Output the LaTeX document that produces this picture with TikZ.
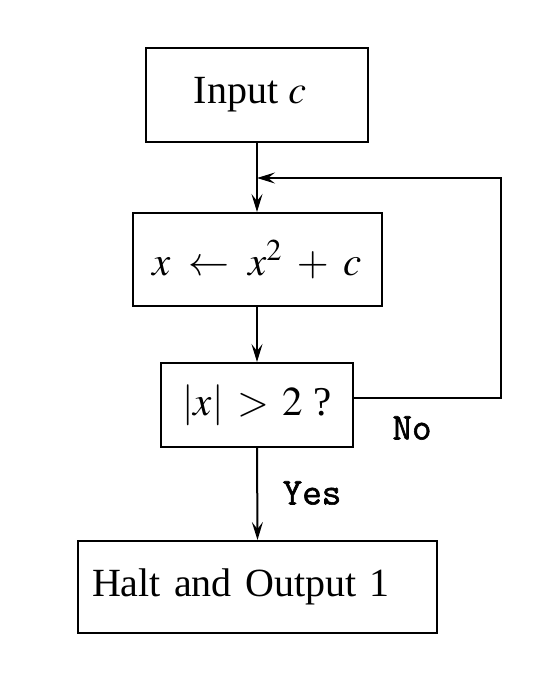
\documentclass[tikz,border=0pt]{standalone}
\usepackage{mathptmx}
\usepackage{fontspec}
\setmainfont{Liberation Serif}
\newfontfamily\ttlbl{Latin Modern Mono}[FakeBold=1.5]
\usetikzlibrary{arrows.meta}
\tikzset{
  box/.style={draw, line width=2pt, rectangle, inner sep=0pt, font=\fontsize{40}{48}\selectfont},
  arr/.style={line width=2pt, -{Stealth[length=18pt,width=11pt,inset=7pt]}},
  lbl/.style={font=\ttlbl\fontsize{38}{44}\selectfont, inner sep=0pt}
}
\begin{document}
\begin{tikzpicture}[x=1pt,y=-1pt]
\useasboundingbox (0,0) rectangle (556,674);
\node[box, minimum width=222pt, minimum height=94pt] (b1) at (257,95) {\hspace*{-14pt}Input $c$};
\node[box, minimum width=249pt, minimum height=93pt, font=\fontsize{41}{48}\selectfont] (b2) at (257,259.5) {$x \;\leftarrow\; x^{2} \;+\; c$};
\node[box, minimum width=192pt, minimum height=84pt, font=\fontsize{41}{48}\selectfont] (b3) at (257,405) {$|x| \,>\, 2$ ?};
\node[box, text width=331pt, align=left, inner xsep=14pt, minimum height=92pt] (b4) at (257.5,587) {Halt and Output 1};
\coordinate (c1) at (501,178);
\coordinate (j) at (257,178);
\draw[arr] (b1.south) -- (b2.north);
\draw[arr] (b2.south) -- (b3.north);
\draw[arr] (b3.south) -- (b4.north);
\draw[arr] ([yshift=7pt]b3.east) -| (c1) -- (j);
\node[lbl] (no) at (412,428) {No};
\node[lbl] (yes) at (312,493) {Yes};
\end{tikzpicture}
\end{document}
